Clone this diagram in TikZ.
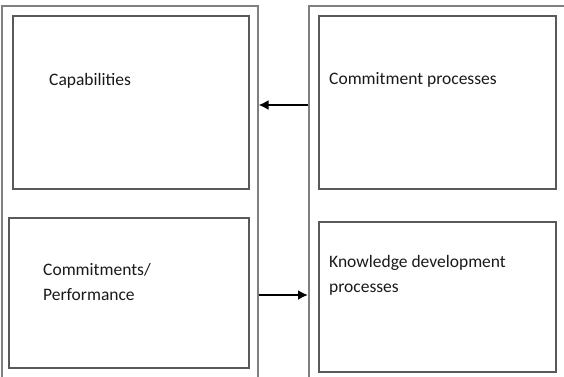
\documentclass[tikz,border=0pt]{standalone}
\usepackage{fontspec}
\setmainfont{Carlito}
\usetikzlibrary{arrows.meta}
\tikzset{
  outerbox/.style={draw=black!50, line width=1.5pt, inner sep=0pt, anchor=north west},
  innerbox/.style={draw=black!65, line width=1.8pt, inner sep=0pt, anchor=north west},
  boxtext/.style={anchor=west, align=left, inner sep=0pt, font=\fontsize{17.5}{24.5}\selectfont, text=black!90},
  flow/.style={line width=2.6pt, -{Latex[length=10pt,width=10pt]}}
}

\begin{document}
\begin{tikzpicture}[x=1pt, y=-1pt]
		%%%%% START %%%%%
		\useasboundingbox (0,0) rectangle (564,376);
		\clip (0,0) rectangle (564,376);
		
		% the two columns, cut off at the bottom and right
		\node[outerbox, minimum width=256pt, minimum height=400pt] (leftcol) at (1,5) {};
		\node[outerbox, minimum width=270pt, minimum height=400pt] (rightcol) at (308,5) {};
		
		% left column
		\node[innerbox, minimum width=236pt, minimum height=173pt] (capbox) at (12,15) {};
		\node[innerbox, minimum width=240pt, minimum height=150pt] (perfbox) at (8,217) {};
		\node[boxtext] (captext) at (49,81) {Capabilities};
		\node[boxtext] (perftext) at (43,282) {Commitments/\\Performance};
		
		% right column
		\node[innerbox, minimum width=237pt, minimum height=173pt] (commbox) at (318,15) {};
		\node[innerbox, minimum width=237pt, minimum height=150pt] (knowbox) at (318,221) {};
		\node[boxtext] (commtext) at (329,80) {Commitment processes};
		\node[boxtext] (knowtext) at (329,275.5) {Knowledge development\\processes};
		
		% arrows between the columns
		\coordinate (topy) at (0,105);
		\coordinate (boty) at (0,295);
		\draw[flow] (rightcol.west |- topy) -- (leftcol.east |- topy);
		\draw[flow] (leftcol.east |- boty) -- (rightcol.west |- boty);
		
		%%%%% END %%%%%
	\end{tikzpicture}
\end{document}
